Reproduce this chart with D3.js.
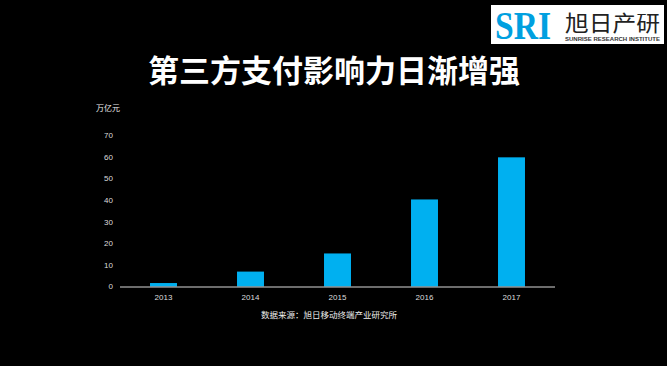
<!DOCTYPE html>
<html><head><meta charset="utf-8">
<script src="https://cdn.jsdelivr.net/npm/d3@7"></script>
<style>html,body{margin:0;padding:0;background:#000;}svg{display:block;}</style>
</head><body>
<script>
const years = ["2013","2014","2015","2016","2017"];
const values = [1.6, 6.9, 15.3, 40.3, 59.8];
const yTicks = [0,10,20,30,40,50,60,70];
const titleText = "第三方支付影响力日渐增强";
const unitText = "万亿元";
const sourceText = "数据来源：旭日移动终端产业研究所";

const W = 667, H = 366;
const svg = d3.select("body").append("svg").attr("width", W).attr("height", H);
svg.append("rect").attr("width", W).attr("height", H).attr("fill", "#000");

const cjk = "'Noto Sans CJK SC','Noto Sans',sans-serif";

// title
svg.append("text").attr("x", 334).attr("y", 82).attr("text-anchor", "middle")
  .attr("font-family", cjk).attr("font-weight", "bold").attr("font-size", 31)
  .attr("fill", "#fff").text(titleText);

// logo
const logo = svg.append("g");
logo.append("rect").attr("x", 491).attr("y", 5).attr("width", 173).attr("height", 39).attr("fill", "#fff");
logo.append("text").attr("x", 523).attr("y", 39).attr("text-anchor", "middle")
  .attr("font-family", "'Liberation Serif',serif").attr("font-weight", "bold").attr("font-size", 39)
  .attr("textLength", 56).attr("lengthAdjust", "spacingAndGlyphs")
  .attr("fill", "#00a0e0").text("SRI");
logo.append("text").attr("x", 565).attr("y", 31)
  .attr("font-family", cjk).attr("font-size", 22).attr("textLength", 95).attr("lengthAdjust", "spacingAndGlyphs")
  .attr("fill", "#222").text("旭日产研");
logo.append("text").attr("x", 565).attr("y", 40.5)
  .attr("font-family", "'Liberation Sans',sans-serif").attr("font-weight", "bold").attr("font-size", 4.5)
  .attr("textLength", 95).attr("lengthAdjust", "spacingAndGlyphs")
  .attr("fill", "#333").text("SUNRISE RESEARCH INSTITUTE");

// scales
const x = d3.scaleBand().domain(years).range([120, 555]).paddingInner(0.69).paddingOuter(0.345);
const y = d3.scaleLinear().domain([0, 70]).range([286.5, 135.3]);

// y tick labels
svg.append("g").selectAll("text").data(yTicks).join("text")
  .attr("x", 113).attr("y", d => y(d)).attr("dy", "0.35em").attr("text-anchor", "end")
  .attr("font-family", "'Liberation Sans',sans-serif").attr("font-size", 8).attr("fill", "#ddd")
  .text(d => d);

svg.append("text").attr("x", 96).attr("y", 111)
  .attr("font-family", cjk).attr("font-size", 8).attr("fill", "#eee").text(unitText);

// bars
svg.append("g").selectAll("rect").data(values).join("rect")
  .attr("x", (d, i) => x(years[i])).attr("width", x.bandwidth())
  .attr("y", d => y(d)).attr("height", d => y(0) - y(d))
  .attr("fill", "#00b0f0");

// baseline
svg.append("line").attr("x1", 120).attr("x2", 555).attr("y1", 287).attr("y2", 287)
  .attr("stroke", "#d9d9d9").attr("stroke-width", 1);

// x labels
svg.append("g").selectAll("text").data(years).join("text")
  .attr("x", d => x(d) + x.bandwidth() / 2).attr("y", 300).attr("text-anchor", "middle")
  .attr("font-family", "'Liberation Sans',sans-serif").attr("font-size", 8).attr("fill", "#ddd")
  .text(d => d);

// source
svg.append("text").attr("x", 329).attr("y", 318).attr("text-anchor", "middle")
  .attr("font-family", cjk).attr("font-size", 8.5).attr("fill", "#eee").text(sourceText);
</script>
</body></html>
